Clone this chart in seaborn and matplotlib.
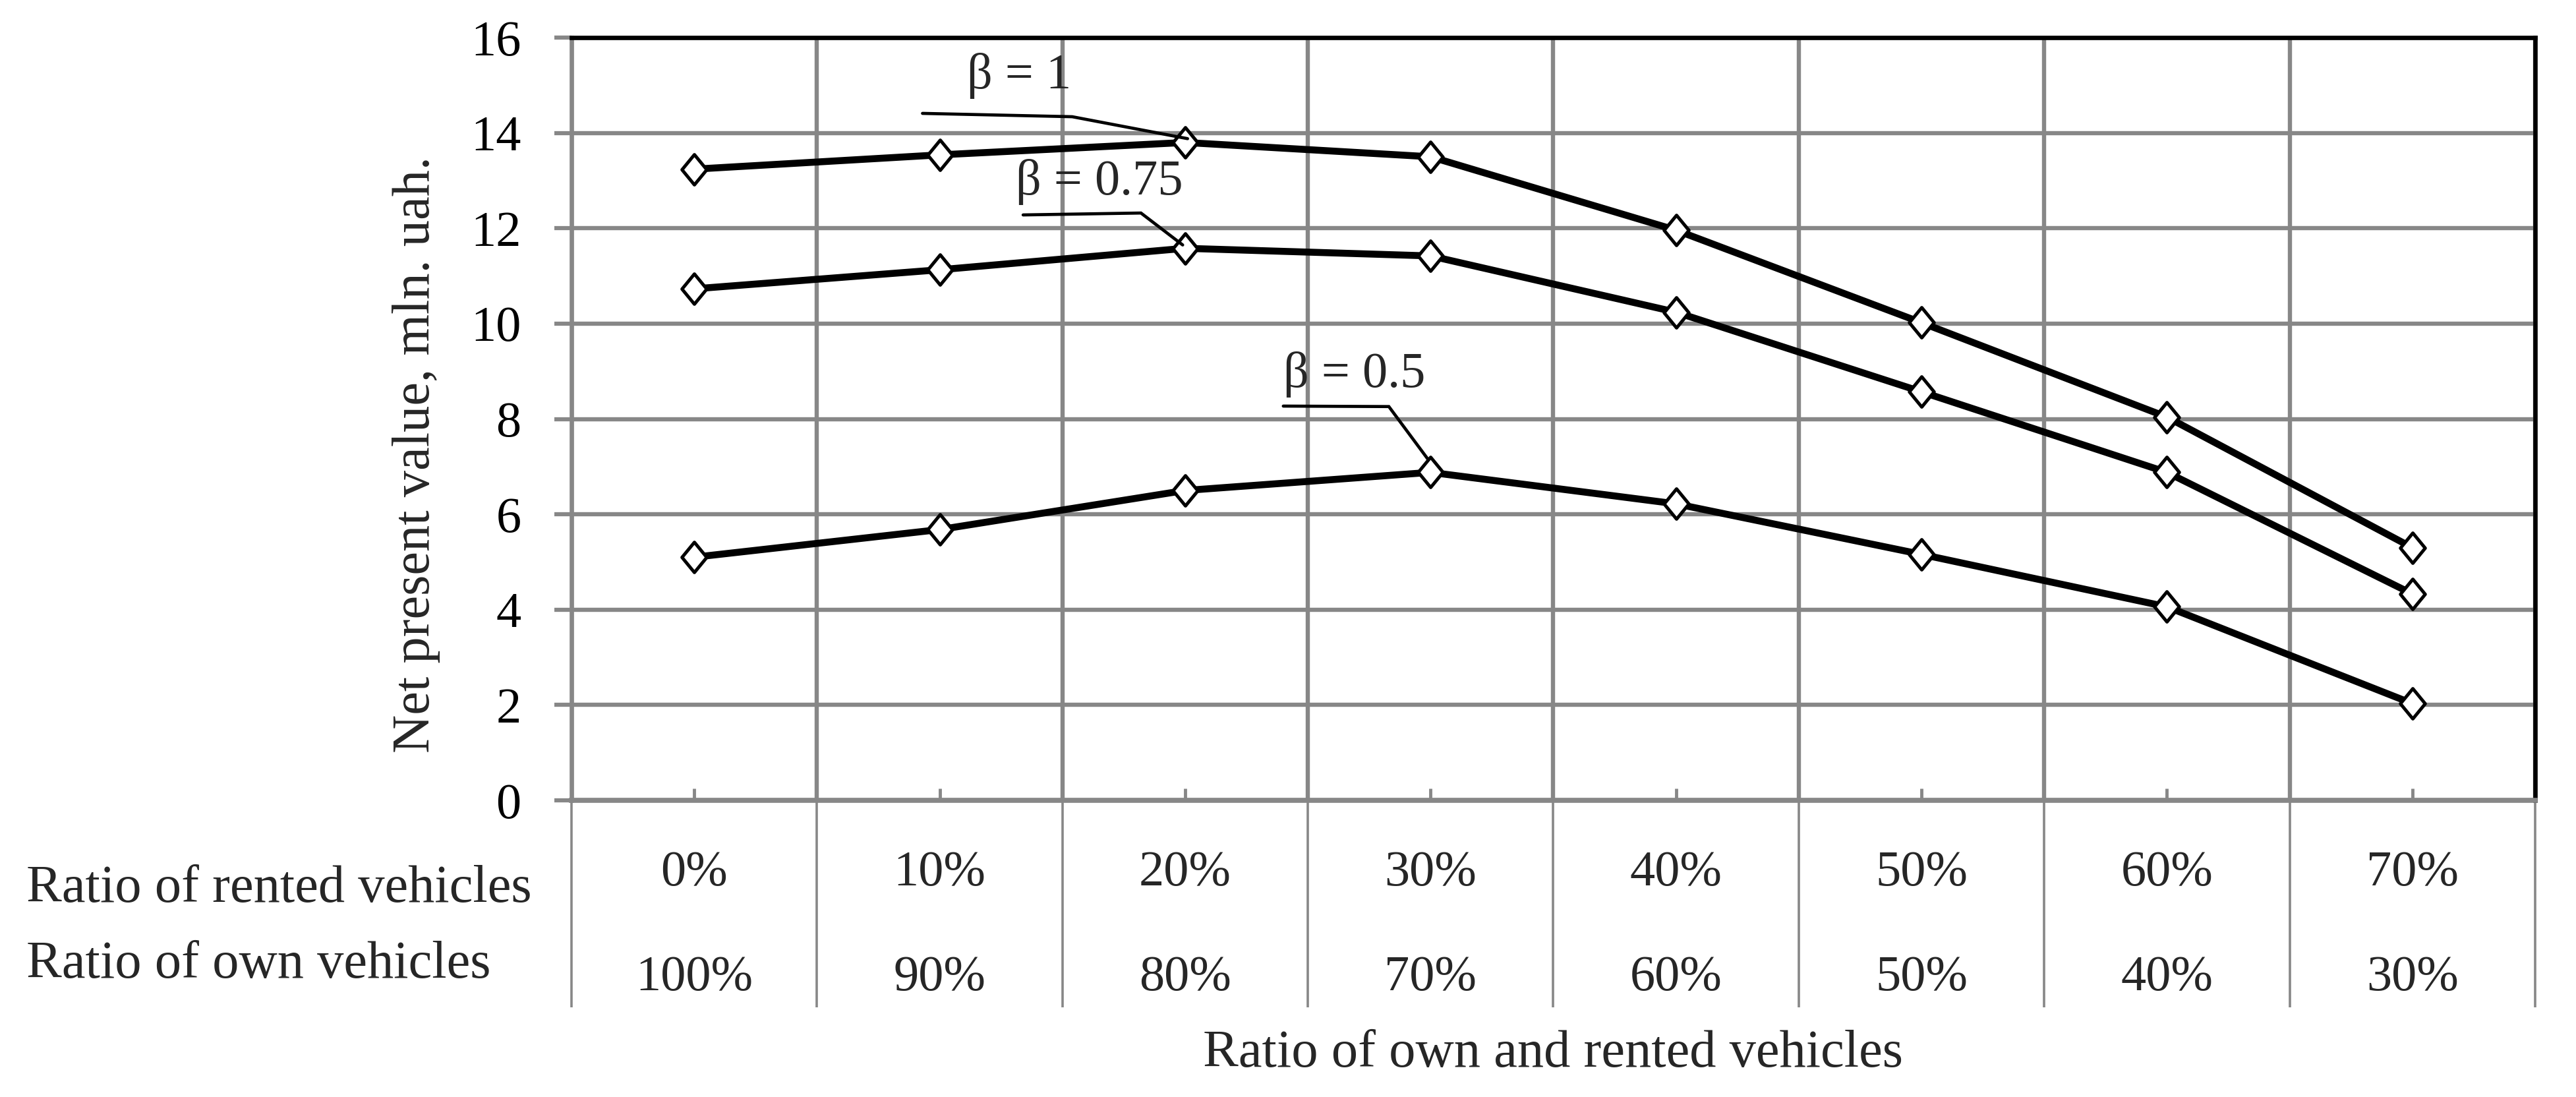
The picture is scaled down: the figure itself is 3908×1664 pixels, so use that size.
import numpy as np
import pandas as pd
import matplotlib
matplotlib.use("Agg")
import matplotlib.pyplot as plt
import matplotlib.transforms as mtransforms
from matplotlib.path import Path
import seaborn as sns

# ---------------- data ----------------
rented_share = ["0%", "10%", "20%", "30%", "40%", "50%", "60%", "70%"]
own_share = ["100%", "90%", "80%", "70%", "60%", "50%", "40%", "30%"]
beta_labels = ["β = 1", "β = 0.75", "β = 0.5"]
npv_beta_1 = [13.24, 13.54, 13.80, 13.50, 11.96, 10.02, 8.04, 5.30]
npv_beta_075 = [10.73, 11.13, 11.58, 11.42, 10.24, 8.57, 6.88, 4.33]
npv_beta_05 = [5.10, 5.68, 6.50, 6.88, 6.22, 5.16, 4.06, 2.03]
y_ticks = [0, 2, 4, 6, 8, 10, 12, 14, 16]
row_label_rented = "Ratio of rented vehicles"
row_label_own = "Ratio of own vehicles"
x_title = "Ratio of own and rented vehicles"
y_title = "Net present value, mln. uah."

series = {beta_labels[0]: npv_beta_1,
          beta_labels[1]: npv_beta_075,
          beta_labels[2]: npv_beta_05}
df = pd.DataFrame([
    {"pos": i, "npv": v, "beta": b}
    for b, vals in series.items() for i, v in enumerate(vals)
])

# ---------------- style ----------------
sns.set_theme(style="white")
plt.rcParams["font.family"] = ["Liberation Serif", "DejaVu Serif"]
GRID = "#878787"
FS_LABEL = 58
FS_TICK = 55

fig = plt.figure(figsize=(39.08, 16.64), dpi=100)
ax = fig.add_axes([0.22185, 0.27043, 0.76228, 0.69531])

diamond = Path([(-0.82, 0), (0, 1), (0.82, 0), (0, -1), (-0.82, 0)],
               [Path.MOVETO, Path.LINETO, Path.LINETO, Path.LINETO, Path.CLOSEPOLY])

sns.lineplot(data=df, x="pos", y="npv", hue="beta", hue_order=beta_labels,
             palette=["black"] * 3, legend=False, ax=ax, sort=False,
             lw=7.6, marker=diamond, markersize=33, markerfacecolor="white",
             markeredgecolor="black", markeredgewidth=3.6, zorder=5)

ax.set_xlim(-0.5, len(rented_share) - 0.5)
ax.set_ylim(y_ticks[0], y_ticks[-1])
ax.set_xlabel("")
ax.set_ylabel("")

ax.set_yticks(y_ticks)
ax.set_yticklabels([str(t) for t in y_ticks], fontsize=FS_TICK)
ax.set_xticks(range(len(rented_share)))
ax.set_xticklabels([])
ax.set_xticks(np.arange(-0.5, len(rented_share), 1), minor=True)

ax.set_axisbelow(True)
ax.grid(False)
ax.grid(which="minor", axis="x", color=GRID, lw=4.6)
ax.grid(which="major", axis="y", color=GRID, lw=4.6)

ax.tick_params(axis="x", which="major", direction="in", length=13, width=3.5,
               color=GRID, bottom=True)
ax.tick_params(axis="x", which="minor", length=0)
ax.tick_params(axis="y", which="major", direction="out", length=19, width=4.5,
               color=GRID, pad=36, left=True, labelcolor="black")

for side, col, lw in [("left", GRID, 4.8), ("bottom", GRID, 5.5),
                      ("top", "black", 4.8), ("right", "black", 4.8)]:
    ax.spines[side].set_visible(True)
    ax.spines[side].set_color(col)
    ax.spines[side].set_linewidth(lw)

# ---------------- table below the axis ----------------
trans_xfig = mtransforms.blended_transform_factory(ax.transData, fig.transFigure)
trans_xax = mtransforms.blended_transform_factory(ax.transData, ax.transAxes)
ax.vlines(np.arange(-0.5, len(rented_share), 1), -0.2714, 0, transform=trans_xax,
          colors=GRID, lw=2.6, clip_on=False)
for i, (r, o) in enumerate(zip(rented_share, own_share)):
    ax.text(i, 0.1929, r, transform=trans_xfig, ha="center", va="baseline",
            fontsize=FS_TICK)
    ax.text(i, 0.0974, o, transform=trans_xfig, ha="center", va="baseline",
            fontsize=FS_TICK)

fig.text(0.0102, 0.1779, row_label_rented, ha="left", va="baseline", fontsize=FS_LABEL)
fig.text(0.0102, 0.1088, row_label_own, ha="left", va="baseline", fontsize=FS_LABEL)
fig.text(0.22185 + 0.76228 / 2, 0.0276, x_title, ha="center", va="baseline",
         fontsize=FS_LABEL)
ax.text(-0.0789, 0.453, y_title, transform=ax.transAxes, rotation=90,
        ha="center", va="center", fontsize=FS_LABEL)

# ---------------- series labels with leader lines ----------------
# (label, series, point index, text offset, leader start offset, elbow offset, end offset)
label_layout = [
    (beta_labels[0], npv_beta_1, 2, (-0.89, 1.14), (-1.07, 0.61), (-0.46, 0.54), (0.01, 0.08)),
    (beta_labels[1], npv_beta_075, 2, (-0.69, 1.13), (-0.66, 0.70), (-0.18, 0.74), (-0.01, 0.07)),
    (beta_labels[2], npv_beta_05, 3, (-0.60, 1.79), (-0.60, 1.39), (-0.17, 1.38), (-0.01, 0.27)),
]
for lab, vals, idx, t_off, s_off, e_off, p_off in label_layout:
    px, py = idx, vals[idx]
    ax.text(px + t_off[0], py + t_off[1], lab, ha="left", va="baseline",
            fontsize=55, zorder=6)
    ax.plot([px + s_off[0], px + e_off[0], px + p_off[0]],
            [py + s_off[1], py + e_off[1], py + p_off[1]],
            color="black", lw=3.4, zorder=6, solid_joinstyle="miter")

fig.savefig("out.png", dpi=100, facecolor="white")
